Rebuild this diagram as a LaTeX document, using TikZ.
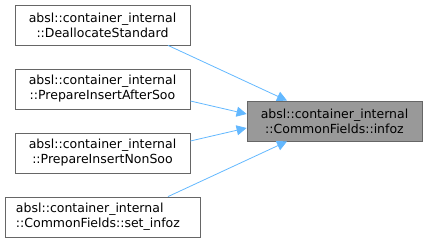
\documentclass[tikz,border=0pt]{standalone}
\usepackage{fontspec}
\setmainfont{DejaVu Sans}
\usetikzlibrary{arrows.meta}
\definecolor{edgeblue}{HTML}{63B8FF}
\definecolor{boxline}{HTML}{666666}
\definecolor{hilite}{HTML}{999999}
\tikzset{
  fn/.style={draw=boxline, fill=white, line width=0.8pt, inner sep=0pt,
    font=\fontsize{12.5}{15}\selectfont, align=center,
    minimum width=175pt, minimum height=40pt},
  cur/.style={fn, fill=hilite},
  call/.style={draw=edgeblue, line width=0.8pt,
    -{Stealth[length=10pt, width=10pt, inset=0pt]}}
}
\begin{document}
\begin{tikzpicture}[x=1pt, y=-1pt]
\useasboundingbox (0,0) rectangle (428,243);
\node[fn] (dealloc) at (102.5,25) {absl::container\_internal\\::DeallocateStandard};
\node[fn] (after) at (102.5,89) {absl::container\_internal\\::PrepareInsertAfterSoo};
\node[fn] (nonsoo) at (102.5,153) {absl::container\_internal\\::PrepareInsertNonSoo};
\node[fn, minimum width=195pt, align=left, text width=173pt] (setinfoz) at (102.5,217) {absl::container\_internal\\::CommonFields::set\_infoz};
\node[cur] (infoz) at (334.5,121) {absl::container\_internal\\::CommonFields::infoz};
\draw[call] (dealloc.south -| 168,0) -- (infoz.north -| 287,0);
\draw[call] (after.east |- 0,101) -- (infoz.west |- 0,114);
\draw[call] (nonsoo.east |- 0,141) -- (infoz.west |- 0,128);
\draw[call] (setinfoz.north -| 168,0) -- (infoz.south -| 287,0);
\end{tikzpicture}
\end{document}
